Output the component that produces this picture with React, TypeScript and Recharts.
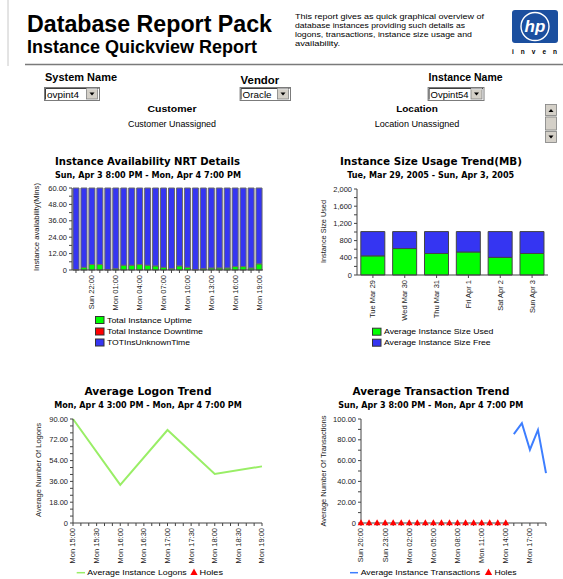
import React from 'react';
import { BarChart, Bar, LineChart, Line, XAxis, YAxis } from 'recharts';

const SANS = '"Liberation Sans", Arial, Helvetica, sans-serif';
const WIDE = '"DejaVu Sans", Verdana, sans-serif';

// ---------------- data ----------------
const NRT_HOURS = ['Sun 20:00', 'Sun 21:00', 'Sun 22:00', 'Sun 23:00', 'Mon 00:00', 'Mon 01:00', 'Mon 02:00', 'Mon 03:00', 'Mon 04:00', 'Mon 05:00', 'Mon 06:00', 'Mon 07:00', 'Mon 08:00', 'Mon 09:00', 'Mon 10:00', 'Mon 11:00', 'Mon 12:00', 'Mon 13:00', 'Mon 14:00', 'Mon 15:00', 'Mon 16:00', 'Mon 17:00', 'Mon 18:00', 'Mon 19:00'];
const NRT_UPTIME = [0.3, 2, 4, 4, 0.3, 1, 3.5, 3.5, 4, 3.5, 3, 2, 1, 3, 2, 0.3, 1, 1.5, 1.5, 1.5, 2.5, 2.5, 1.5, 4.5];
const NRT_DOWNTIME = [0, 0, 0, 0, 0, 0, 0, 0, 0, 0, 0, 0, 0, 0, 0, 0, 0, 0, 0, 0, 0, 0, 0, 0];
const NRT_UNKNOWN = [59.7, 58, 56, 56, 59.7, 59, 56.5, 56.5, 56, 56.5, 57, 58, 59, 57, 58, 59.7, 59, 58.5, 58.5, 58.5, 57.5, 57.5, 58.5, 55.5];
const NRT_LABELS = ['Sun 22:00', 'Mon 01:00', 'Mon 04:00', 'Mon 07:00', 'Mon 10:00', 'Mon 13:00', 'Mon 16:00', 'Mon 19:00'];
const NRT_Y_TICKS = [0, 6, 12, 18, 24, 30, 36, 42, 48, 54, 60];
const NRT_Y_LABELED = [0, 12, 24, 36, 48, 60];

const SIZE_DAYS = ['Tue Mar 29', 'Wed Mar 30', 'Thu Mar 31', 'Fri Apr 1', 'Sat Apr 2', 'Sun Apr 3'];
const SIZE_USED = [445, 615, 500, 535, 410, 500];
const SIZE_FREE = [565, 395, 510, 475, 600, 510];
const SIZE_Y_TICKS = [0, 200, 400, 600, 800, 1000, 1200, 1400, 1600, 1800, 2000];
const SIZE_Y_LABELED = [0, 400, 800, 1200, 1600, 2000];

const LOGON_AXIS = ['Mon 15:00', 'Mon 15:30', 'Mon 16:00', 'Mon 16:30', 'Mon 17:00', 'Mon 17:30', 'Mon 18:00', 'Mon 18:30', 'Mon 19:00'];
const LOGON_TIMES = ['Mon 15:00', 'Mon 16:00', 'Mon 17:00', 'Mon 18:00', 'Mon 19:00'];
const LOGON_VALUES = [90, 33, 80.5, 42.5, 49];
const LOGON_X_TICKS = [0, 10, 20, 30, 40, 50, 60, 70, 80, 90, 100, 110, 120, 130, 140, 150, 160, 170, 180, 190, 200, 210, 220, 230, 240];
const LOGON_Y_TICKS = [0, 6, 12, 18, 24, 30, 36, 42, 48, 54, 60, 66, 72, 78, 84, 90];
const LOGON_Y_LABELED = [0, 18, 36, 54, 72, 90];

const TXN_HOURS = ['Sun 20:00', 'Sun 21:00', 'Sun 22:00', 'Sun 23:00', 'Mon 00:00', 'Mon 01:00', 'Mon 02:00', 'Mon 03:00', 'Mon 04:00', 'Mon 05:00', 'Mon 06:00', 'Mon 07:00', 'Mon 08:00', 'Mon 09:00', 'Mon 10:00', 'Mon 11:00', 'Mon 12:00', 'Mon 13:00', 'Mon 14:00', 'Mon 15:00', 'Mon 16:00', 'Mon 17:00', 'Mon 18:00', 'Mon 19:00'];
const TXN_VALUES: (number | null)[] = [null, null, null, null, null, null, null, null, null, null, null, null, null, null, null, null, null, null, null, 85.5, 96, 70.5, 89.5, 48];
const TXN_HOLES: (number | null)[] = [0, 0, 0, 0, 0, 0, 0, 0, 0, 0, 0, 0, 0, 0, 0, 0, 0, 0, 0, null, null, null, null, null];
const TXN_LABELS = ['Sun 20:00', 'Sun 23:00', 'Mon 02:00', 'Mon 05:00', 'Mon 08:00', 'Mon 11:00', 'Mon 14:00', 'Mon 17:00'];
const TXN_Y_TICKS = [0, 10, 20, 30, 40, 50, 60, 70, 80, 90, 100];
const TXN_Y_LABELED = [0, 20, 40, 60, 80, 100];

// ---------------- tables ----------------
const nrtData = NRT_HOURS.map((h, i) => ({ hour: h, uptime: NRT_UPTIME[i], downtime: NRT_DOWNTIME[i], unknown: NRT_UNKNOWN[i] }));
const sizeData = SIZE_DAYS.map((d, i) => ({ day: d, used: SIZE_USED[i], free: SIZE_FREE[i] }));
const toMin = (s: string) => {
  const [h, m] = s.split(' ')[1].split(':').map(Number);
  return (h - 15) * 60 + m;
};
const logonData = LOGON_TIMES.map((t, i) => ({ min: toMin(t), logons: LOGON_VALUES[i] }));
const txnData = TXN_HOURS.map((h, i) => ({ hour: h, txn: TXN_VALUES[i], hole: TXN_HOLES[i] }));

// ---------------- colours ----------------
const GREEN = '#00ff00';
const RED = '#ff0000';
const BLUE = '#3535f2';
const AXIS = '#444';

const fmt2 = (labeled: number[]) => (v: number) => (labeled.includes(v) ? (v === 0 ? '0' : v.toFixed(2)) : '');
const fmtK = (labeled: number[]) => (v: number) => (labeled.includes(v) ? v.toLocaleString('en-US') : '');

function makeRotTick(labelOf: (v: any) => string) {
  return (props: any) => {
    const { x, y, payload } = props;
    const t = labelOf(payload.value);
    return (
      <g transform={`translate(${x},${y})`}>
        {t ? (
          <text transform="rotate(-90)" textAnchor="end" dy="0.33em" fontSize={7.5} fontFamily={SANS} fill="#222">
            {t}
          </text>
        ) : null}
      </g>
    );
  };
}

const yTickStyle = { fontSize: 7.5, fontFamily: SANS, fill: '#222' };

const TriangleDot = (props: any) => {
  const { cx, cy, value, index } = props;
  if (value == null || cy == null || cx == null) return <g key={`t${index}`} />;
  return <path key={`t${index}`} d={`M${cx},${cy - 3.8} L${cx + 3.4},${cy + 2.2} L${cx - 3.4},${cy + 2.2} Z`} fill={RED} />;
};

// ---------------- static text helpers ----------------
type TP = { x: number; y: number; s: number; len?: number; bold?: boolean; fam?: string; anchor?: 'start' | 'middle' | 'end'; fill?: string; children: React.ReactNode };
const Txt = ({ x, y, s, len, bold, fam, anchor, fill, children }: TP) => (
  <text
    x={x}
    y={y}
    fontSize={s}
    fontFamily={fam || SANS}
    fontWeight={bold ? 'bold' : 'normal'}
    textAnchor={anchor || 'start'}
    fill={fill || '#000'}
    textLength={len}
    lengthAdjust={len ? 'spacingAndGlyphs' : undefined}
  >
    {children}
  </text>
);

const VText = ({ cx, cy, len, children }: { cx: number; cy: number; len: number; children: React.ReactNode }) => (
  <text transform={`translate(${cx},${cy}) rotate(-90)`} textAnchor="middle" dy="0.33em" fontSize={7.5} fontFamily={SANS} fill="#222" textLength={len} lengthAdjust="spacingAndGlyphs">
    {children}
  </text>
);

const SelectBox = ({ x1, x2, text, len }: { x1: number; x2: number; text: string; len: number }) => (
  <g>
    <rect x={x1 + 0.5} y={87.5} width={x2 - x1 - 1} height={13} fill="#fff" stroke="#7b7b7b" />
    <line x1={x1 + 1.5} y1={88.5} x2={x2 - 1.5} y2={88.5} stroke="#404040" />
    <line x1={x1 + 1.5} y1={88.5} x2={x1 + 1.5} y2={99.5} stroke="#404040" />
    <Txt x={x1 + 3} y={97.8} s={9.5} len={len}>{text}</Txt>
    <rect x={x2 - 13.5} y={89} width={11} height={10} fill="#d4d0c8" stroke="#808080" strokeWidth={0.8} />
    <line x1={x2 - 13.5} y1={89} x2={x2 - 2.5} y2={89} stroke="#fff" />
    <path d={`M${x2 - 10.5},${92.5} L${x2 - 5.5},${92.5} L${x2 - 8},${95.5} Z`} fill="#000" />
  </g>
);

const LegendBox = ({ x, cy, color, label, len }: { x: number; cy: number; color: string; label: string; len: number }) => (
  <g>
    <rect x={x + 0.5} y={cy - 3.5} width={8.5} height={7} fill={color} stroke="#333" strokeWidth={1} />
    <Txt x={x + 12} y={cy + 2.6} s={7} len={len}>{label}</Txt>
  </g>
);

const Tri = ({ cx, cy }: { cx: number; cy: number }) => <path d={`M${cx},${cy - 4} L${cx + 3.6},${cy + 2.4} L${cx - 3.6},${cy + 2.4} Z`} fill={RED} />;

export default function App() {
  return (
    <div style={{ position: 'absolute', left: 0, top: 0, width: 563, height: 579, overflow: 'hidden', background: '#fff', fontFamily: SANS }}>
      <svg width={563} height={579} style={{ position: 'absolute', left: 0, top: 0 }}>
        {/* header */}
        <line x1={8} y1={0} x2={8} y2={66} stroke="#c8c8c8" strokeWidth={1} />
        <Txt x={27} y={32} s={23} bold len={245}>Database Report Pack</Txt>
        <Txt x={27} y={53} s={18} bold len={230}>Instance Quickview Report</Txt>
        <Txt x={295} y={19} s={7} len={189}>This report gives as quick graphical overview of</Txt>
        <Txt x={295} y={28} s={7} len={170}>database instances providing such details as</Txt>
        <Txt x={295} y={37} s={7} len={177}>logons, transactions, instance size usage and</Txt>
        <Txt x={295} y={46} s={7} len={45}>availability.</Txt>
        {/* hp logo */}
        <rect x={512} y={10} width={46} height={33} rx={3} fill="#1b4f9f" />
        <ellipse cx={535} cy={26.5} rx={14} ry={14} fill="none" stroke="#fff" strokeWidth={1.4} />
        <text x={535} y={32} textAnchor="middle" fontSize={17} fontStyle="italic" fontWeight="bold" fontFamily={SANS} fill="#fff">hp</text>
        <text x={512} y={54} fontSize={6.5} fontWeight="bold" fontFamily={SANS} fill="#000" letterSpacing={7}>inven</text>
        <line x1={25} y1={64.5} x2={563} y2={64.5} stroke="#7a7a7a" strokeWidth={1.5} />

        {/* form */}
        <Txt x={45} y={81} s={10.5} bold len={72}>System Name</Txt>
        <Txt x={240.6} y={83.5} s={11} bold len={38.6}>Vendor</Txt>
        <Txt x={428.6} y={81} s={10.5} bold len={74}>Instance Name</Txt>
        <SelectBox x1={44} x2={100} text="ovpint4" len={32} />
        <SelectBox x1={239.6} x2={291} text="Oracle" len={29} />
        <SelectBox x1={427.6} x2={484.5} text="Ovpint54" len={38} />
        <Txt x={172} y={111.5} s={9.5} bold anchor="middle" len={49}>Customer</Txt>
        <Txt x={172} y={126.5} s={9} anchor="middle" len={88}>Customer Unassigned</Txt>
        <Txt x={417} y={111.5} s={9.5} bold anchor="middle" len={41.7}>Location</Txt>
        <Txt x={417} y={126.5} s={9} anchor="middle" len={84.7}>Location Unassigned</Txt>
        {/* scrollbar */}
        <rect x={545.5} y={104.5} width={11} height={38} fill="#ecebe6" />
        <rect x={545.5} y={104.5} width={11} height={11} fill="#d4d0c8" stroke="#808080" strokeWidth={0.8} />
        <path d="M548.5,112 L553.5,112 L551,109 Z" fill="#000" />
        <rect x={545.5} y={117} width={11} height={13} fill="#d4d0c8" stroke="#808080" strokeWidth={0.8} />
        <rect x={545.5} y={131.5} width={11} height={11} fill="#d4d0c8" stroke="#808080" strokeWidth={0.8} />
        <path d="M548.5,135.5 L553.5,135.5 L551,138.5 Z" fill="#000" />

        {/* chart titles */}
        <Txt x={147.5} y={164.5} s={10} bold fam={WIDE} anchor="middle" len={185}>Instance Availability NRT Details</Txt>
        <Txt x={148} y={178} s={8.5} bold fam={WIDE} anchor="middle" len={186}>Sun, Apr 3 8:00 PM - Mon, Apr 4 7:00 PM</Txt>
        <Txt x={431} y={164.5} s={10} bold fam={WIDE} anchor="middle" len={182}>Instance Size Usage Trend(MB)</Txt>
        <Txt x={430.7} y={178} s={8.5} bold fam={WIDE} anchor="middle" len={167}>Tue, Mar 29, 2005 - Sun, Apr 3, 2005</Txt>
        <Txt x={148} y={394.5} s={10} bold fam={WIDE} anchor="middle" len={127}>Average Logon Trend</Txt>
        <Txt x={148} y={407.5} s={8.5} bold fam={WIDE} anchor="middle" len={187.7}>Mon, Apr 4 3:00 PM - Mon, Apr 4 7:00 PM</Txt>
        <Txt x={431} y={394.5} s={10} bold fam={WIDE} anchor="middle" len={157}>Average Transaction Trend</Txt>
        <Txt x={430.7} y={407.5} s={8.5} bold fam={WIDE} anchor="middle" len={185}>Sun, Apr 3 8:00 PM - Mon, Apr 4 7:00 PM</Txt>

        {/* axis titles */}
        <VText cx={37} cy={227} len={88}>Instance availability(Mins)</VText>
        <VText cx={324} cy={231.5} len={63}>Instance Size Used</VText>
        <VText cx={39} cy={470} len={94}>Average Number Of Logons</VText>
        <VText cx={324} cy={471} len={111}>Average Number Of Transactions</VText>

        {/* legends */}
        <LegendBox x={95} cy={320} color={GREEN} label="Total Instance Uptime" len={85} />
        <LegendBox x={95} cy={331.5} color={RED} label="Total Instance Downtime" len={96} />
        <LegendBox x={95} cy={342.5} color={BLUE} label="TOTInsUnknownTime" len={83} />
        <LegendBox x={372} cy={331.7} color={GREEN} label="Average Instance Size Used" len={109.4} />
        <LegendBox x={372} cy={342.7} color={BLUE} label="Average Instance Size Free" len={106.7} />

        <line x1={76.7} y1={572.7} x2={85} y2={572.7} stroke="#99ee66" strokeWidth={1.5} />
        <Txt x={87.3} y={575.3} s={7} len={99.4}>Average Instance Logons</Txt>
        <Tri cx={194} cy={572.5} />
        <Txt x={199.5} y={575.3} s={7} len={23.5}>Holes</Txt>
        <line x1={350} y1={572.7} x2={358} y2={572.7} stroke="#3d7eff" strokeWidth={1.5} />
        <Txt x={360.7} y={575.3} s={7} len={119.3}>Average Instance Transactions</Txt>
        <Tri cx={488.5} cy={572.5} />
        <Txt x={494.5} y={575.3} s={7} len={22.2}>Holes</Txt>
      </svg>

      {/* chart 1 */}
      <div style={{ position: 'absolute', left: 30, top: 183 }}>
        <BarChart width={240} height={130} data={nrtData} margin={{ top: 5, right: 7, left: 0, bottom: 0 }} barCategoryGap={1}>
          <XAxis dataKey="hour" interval={0} height={43} tickSize={3} tickMargin={2} stroke={AXIS} tick={makeRotTick((v) => (NRT_LABELS.includes(v) ? v : ''))} />
          <YAxis width={42} domain={[0, 60]} ticks={NRT_Y_TICKS} interval={0} tickSize={3} tickMargin={2} stroke={AXIS} tick={yTickStyle} tickFormatter={fmt2(NRT_Y_LABELED)} />
          <Bar dataKey="uptime" stackId="a" fill={GREEN} stroke="#5a5a5a" strokeWidth={1} isAnimationActive={false} />
          <Bar dataKey="downtime" stackId="a" fill={RED} isAnimationActive={false} />
          <Bar dataKey="unknown" stackId="a" fill={BLUE} stroke="#6a6a6a" strokeWidth={1} isAnimationActive={false} />
        </BarChart>
      </div>

      {/* chart 2 */}
      <div style={{ position: 'absolute', left: 300, top: 183 }}>
        <BarChart width={255} height={140} data={sizeData} margin={{ top: 6, right: 7, left: 0, bottom: 0 }} barCategoryGap="12%">
          <XAxis dataKey="day" interval={0} height={48} tickSize={3} tickMargin={2} stroke={AXIS} tick={makeRotTick((v) => v)} />
          <YAxis width={57} domain={[0, 2000]} ticks={SIZE_Y_TICKS} interval={0} tickSize={3} tickMargin={2} stroke={AXIS} tick={yTickStyle} tickFormatter={fmtK(SIZE_Y_LABELED)} />
          <Bar dataKey="used" stackId="s" fill={GREEN} stroke="#444" strokeWidth={1} isAnimationActive={false} />
          <Bar dataKey="free" stackId="s" fill={BLUE} stroke="#444" strokeWidth={1} isAnimationActive={false} />
        </BarChart>
      </div>

      {/* chart 3 */}
      <div style={{ position: 'absolute', left: 30, top: 412 }}>
        <LineChart width={240} height={155} data={logonData} margin={{ top: 7, right: 8, left: 0, bottom: 0 }}>
          <XAxis dataKey="min" type="number" domain={[0, 240]} ticks={LOGON_X_TICKS} interval={0} height={44} tickSize={3} tickMargin={2} stroke={AXIS}
            tick={makeRotTick((v) => (v % 30 === 0 ? LOGON_AXIS[v / 30] : ''))} />
          <YAxis width={43} domain={[0, 90]} ticks={LOGON_Y_TICKS} interval={0} tickSize={3} tickMargin={2} stroke={AXIS} tick={yTickStyle} tickFormatter={fmt2(LOGON_Y_LABELED)} />
          <Line dataKey="logons" stroke="#99ee66" strokeWidth={2} dot={false} isAnimationActive={false} />
        </LineChart>
      </div>

      {/* chart 4 */}
      <div style={{ position: 'absolute', left: 295, top: 412 }}>
        <LineChart width={260} height={155} data={txnData} margin={{ top: 7, right: 9, left: 0, bottom: 0 }}>
          <XAxis dataKey="hour" scale="point" padding={{ left: 0, right: 0 }} interval={0} height={44} tickSize={3} tickMargin={2} stroke={AXIS}
            tick={makeRotTick((v) => (TXN_LABELS.includes(v) ? v : ''))} />
          <YAxis width={66} domain={[0, 100]} ticks={TXN_Y_TICKS} interval={0} tickSize={3} tickMargin={2} stroke={AXIS} tick={yTickStyle} tickFormatter={fmt2(TXN_Y_LABELED)} />
          <Line dataKey="txn" stroke="#3d7eff" strokeWidth={2} dot={false} connectNulls={false} isAnimationActive={false} />
          <Line dataKey="hole" stroke="none" dot={TriangleDot} activeDot={false} isAnimationActive={false} />
        </LineChart>
      </div>
    </div>
  );
}
